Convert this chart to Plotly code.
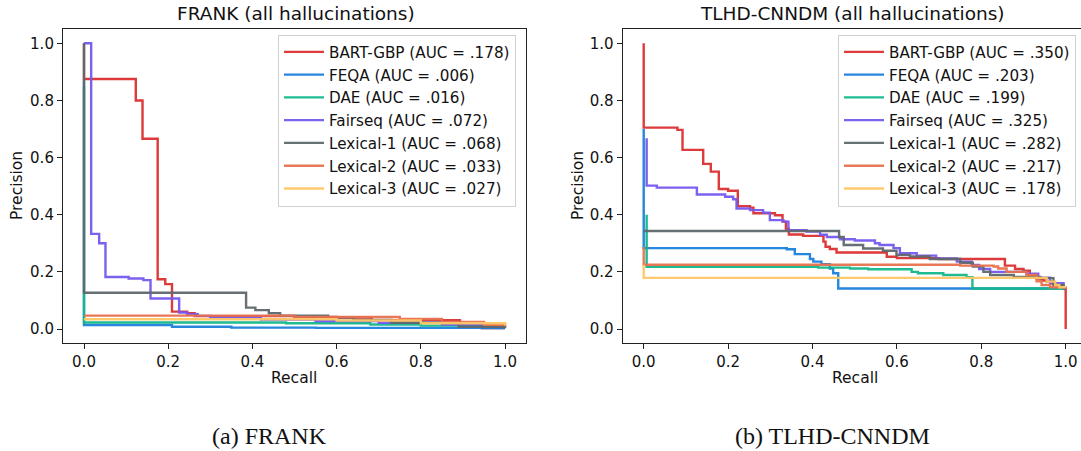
import plotly.graph_objects as go

# ---------------- data ----------------
names = ["BART-GBP", "FEQA", "DAE", "Fairseq", "Lexical-1", "Lexical-2", "Lexical-3"]
colors = ["#dc3131", "#1c80dc", "#12b88c", "#7658ef", "#5e696d", "#e8714f", "#ffc766"]

frank_auc = [".178", ".006", ".016", ".072", ".068", ".033", ".027"]
tlhd_auc = [".350", ".203", ".199", ".325", ".282", ".217", ".178"]

# FRANK curves (recall, precision), step breakpoints
frank_bart_r = [0, 0, 0.123, 0.139, 0.175, 0.193, 0.209, 0.245, 0.263, 0.50, 0.60, 0.683, 0.893, 0.945, 1.0]
frank_bart_p = [1.0, 0.875, 0.80, 0.666, 0.174, 0.157, 0.061, 0.055, 0.045, 0.042, 0.040, 0.031, 0.014, 0.003, 0.003]
frank_feqa_r = [0, 0, 0.209, 0.35, 0.55, 0.945, 1.0]
frank_feqa_p = [0.87, 0.014, 0.008, 0.005, 0.004, 0.003, 0.003]
frank_dae_r = [0, 0, 0.48, 0.68, 0.80, 0.95]
frank_dae_p = [0.85, 0.023, 0.020, 0.016, 0.012, 0.012]
frank_fairseq_r = [0, 0.017, 0.036, 0.051, 0.106, 0.141, 0.158, 0.226, 0.245, 0.27, 0.30, 0.42, 0.55, 0.70, 0.85, 0.95, 1.0]
frank_fairseq_p = [1.0, 0.333, 0.30, 0.182, 0.177, 0.171, 0.107, 0.058, 0.052, 0.046, 0.040, 0.033, 0.028, 0.022, 0.016, 0.010, 0.005]
frank_lex1_r = [0, 0, 0.385, 0.407, 0.439, 0.466, 0.58, 0.64, 0.73, 0.89, 1.0]
frank_lex1_p = [1.0, 0.127, 0.075, 0.066, 0.055, 0.047, 0.040, 0.032, 0.022, 0.008, 0.003]
frank_lex2_r = [0, 0.50, 0.75, 0.85, 0.95, 1.0]
frank_lex2_p = [0.047, 0.042, 0.035, 0.025, 0.015, 0.010]
frank_lex3_r = [0, 0.60, 0.80, 1.0]
frank_lex3_p = [0.034, 0.030, 0.020, 0.012]

# TLHD-CNNDM curves
tlhd_bart_r = [0, 0, 0.08, 0.092, 0.141, 0.159, 0.178, 0.2, 0.223, 0.252, 0.26, 0.311, 0.329, 0.337, 0.344,
               0.378, 0.426, 0.431, 0.441, 0.457, 0.576, 0.60, 0.70, 0.856, 0.88, 0.90, 0.915, 0.931, 0.945,
               0.955, 0.965, 0.975, 0.988, 1.0, 1.0]
tlhd_bart_p = [1.0, 0.705, 0.697, 0.627, 0.578, 0.551, 0.49, 0.484, 0.43, 0.425, 0.405, 0.398, 0.376, 0.35, 0.331,
               0.326, 0.306, 0.288, 0.28, 0.268, 0.253, 0.248, 0.245, 0.222, 0.21, 0.204, 0.19, 0.177, 0.17,
               0.166, 0.16, 0.154, 0.146, 0.145, 0.0]
tlhd_feqa_r = [0, 0, 0.339, 0.358, 0.394, 0.402, 0.421, 0.441, 0.449, 0.461, 1.0]
tlhd_feqa_p = [0.70, 0.283, 0.279, 0.262, 0.245, 0.236, 0.227, 0.212, 0.195, 0.142, 0.142]
tlhd_dae_r = [0.007, 0.007, 0.414, 0.489, 0.532, 0.635, 0.65, 0.71, 0.765, 0.779, 1.0]
tlhd_dae_p = [0.40, 0.218, 0.215, 0.212, 0.209, 0.20, 0.195, 0.189, 0.181, 0.142, 0.142]
tlhd_fairseq_r = [0.007, 0.007, 0.031, 0.126, 0.193, 0.212, 0.22, 0.252, 0.283, 0.299, 0.331, 0.343, 0.386,
                  0.418, 0.434, 0.465, 0.5, 0.548, 0.559, 0.592, 0.607, 0.647, 0.693, 0.742, 0.777, 0.795,
                  0.821, 0.907, 0.935, 0.963, 0.995, 1.0]
tlhd_fairseq_p = [0.668, 0.502, 0.495, 0.471, 0.463, 0.454, 0.422, 0.416, 0.407, 0.381, 0.376, 0.346, 0.341,
                  0.33, 0.322, 0.314, 0.31, 0.30, 0.294, 0.283, 0.265, 0.257, 0.247, 0.236, 0.224, 0.21,
                  0.20, 0.194, 0.18, 0.16, 0.146, 0.145]
tlhd_lex1_r = [0, 0.463, 0.474, 0.52, 0.567, 0.599, 0.631, 0.678, 0.75, 0.78, 0.805, 0.821, 0.877, 0.94, 0.971, 0.995, 1.0]
tlhd_lex1_p = [0.343, 0.322, 0.294, 0.282, 0.274, 0.259, 0.254, 0.245, 0.232, 0.219, 0.20, 0.189, 0.182, 0.178, 0.154, 0.142, 0.142]
tlhd_lex2_r = [0, 0, 0.75, 0.829, 0.84, 0.86, 0.907, 0.931, 0.943, 0.963, 1.0]
tlhd_lex2_p = [0.288, 0.225, 0.222, 0.219, 0.212, 0.20, 0.189, 0.167, 0.154, 0.146, 0.145]
tlhd_lex3_r = [0, 0, 0.955, 0.975, 0.985, 1.0]
tlhd_lex3_p = [0.225, 0.179, 0.166, 0.154, 0.146, 0.145]

frank_r = [frank_bart_r, frank_feqa_r, frank_dae_r, frank_fairseq_r, frank_lex1_r, frank_lex2_r, frank_lex3_r]
frank_p = [frank_bart_p, frank_feqa_p, frank_dae_p, frank_fairseq_p, frank_lex1_p, frank_lex2_p, frank_lex3_p]
tlhd_r = [tlhd_bart_r, tlhd_feqa_r, tlhd_dae_r, tlhd_fairseq_r, tlhd_lex1_r, tlhd_lex2_r, tlhd_lex3_r]
tlhd_p = [tlhd_bart_p, tlhd_feqa_p, tlhd_dae_p, tlhd_fairseq_p, tlhd_lex1_p, tlhd_lex2_p, tlhd_lex3_p]

tick_vals = [0.0, 0.2, 0.4, 0.6, 0.8, 1.0]
tick_text = ["0.0", "0.2", "0.4", "0.6", "0.8", "1.0"]

W, H = 1081, 451
FONT = "DejaVu Sans"

fig = go.Figure()
for i in range(len(names)):
    fig.add_trace(go.Scatter(
        x=frank_r[i], y=frank_p[i], mode="lines", line=dict(color=colors[i], width=2.4, shape="hv"),
        opacity=0.95, name=f"{names[i]} (AUC = {frank_auc[i]})", xaxis="x", yaxis="y", legend="legend"))
for i in range(len(names)):
    fig.add_trace(go.Scatter(
        x=tlhd_r[i], y=tlhd_p[i], mode="lines", line=dict(color=colors[i], width=2.4, shape="hv"),
        opacity=0.95, name=f"{names[i]} (AUC = {tlhd_auc[i]})", xaxis="x2", yaxis="y2", legend="legend2"))

def px_x(v):
    return v / W

def px_y(v):
    return (H - v) / H

ydom = [px_y(343.3), px_y(29.0)]
axis_common = dict(showgrid=False, zeroline=False, showline=True, linecolor="#222", linewidth=1,
                   ticks="outside", ticklen=5, tickwidth=1, tickcolor="#222",
                   tickfont=dict(family=FONT, size=15, color="#111"),
                   tickvals=tick_vals, ticktext=tick_text)

legend_common = dict(xanchor="left", yanchor="top", itemwidth=40,
                     bgcolor="rgba(255,255,255,0.8)", bordercolor="#d0d0d0", borderwidth=1,
                     font=dict(family=FONT, size=15.2, color="#111"))

fig.update_layout(
    width=W, height=H, margin=dict(l=0, r=0, t=0, b=0),
    paper_bgcolor="white", plot_bgcolor="white",
    font=dict(family=FONT, color="#111"),
    xaxis=dict(domain=[px_x(62.95), px_x(526.05)], range=[-0.05, 1.05], anchor="y", mirror=True, **axis_common),
    yaxis=dict(domain=ydom, range=[-0.05, 1.05], anchor="x", mirror=True, **axis_common),
    xaxis2=dict(domain=[px_x(622.6), 1.0], range=[-0.05, 1.0363], anchor="y2", mirror=True, **axis_common),
    yaxis2=dict(domain=ydom, range=[-0.05, 1.05], anchor="x2", mirror=False, **axis_common),
    legend=dict(x=px_x(278), y=px_y(34.5), **legend_common),
    legend2=dict(x=px_x(838), y=px_y(34.5), **legend_common),
)

ann = [
    dict(text="FRANK (all hallucinations)", x=px_x(295.5), y=px_y(14), size=18.5, font=FONT, angle=0),
    dict(text="TLHD-CNNDM (all hallucinations)", x=px_x(852.5), y=px_y(14), size=18.5, font=FONT, angle=0),
    dict(text="Recall", x=px_x(294.5), y=px_y(378), size=15.5, font=FONT, angle=0),
    dict(text="Recall", x=px_x(855), y=px_y(378), size=15.5, font=FONT, angle=0),
    dict(text="Precision", x=px_x(17), y=px_y(186), size=15.5, font=FONT, angle=-90),
    dict(text="Precision", x=px_x(578), y=px_y(186), size=15.5, font=FONT, angle=-90),
    dict(text="(a) FRANK", x=px_x(269), y=px_y(436), size=24, font="Liberation Serif", angle=0),
    dict(text="(b) TLHD-CNNDM", x=px_x(832.5), y=px_y(436), size=24, font="Liberation Serif", angle=0),
]
for a in ann:
    fig.add_annotation(text=a["text"], x=a["x"], y=a["y"], xref="paper", yref="paper",
                       xanchor="center", yanchor="middle", showarrow=False, textangle=a["angle"],
                       font=dict(family=a["font"], size=a["size"], color="#111"))

fig.write_html("out.html")
